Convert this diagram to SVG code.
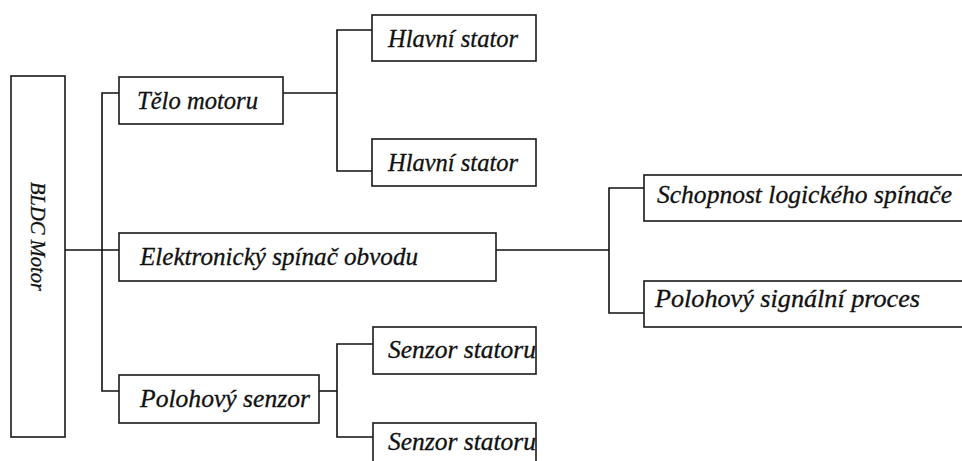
<svg xmlns="http://www.w3.org/2000/svg" width="962" height="461" viewBox="0 0 962 461">
<style>
.box{fill:#fff;stroke:#1a1a1a;stroke-width:1.6}
.lbl{font-family:"Liberation Serif","Times New Roman",serif;font-style:italic;font-size:24.5px;fill:#111;stroke:#111;stroke-width:0.3}
.conn{fill:none;stroke:#111;stroke-width:1.6}
</style>
<rect width="962" height="461" fill="#fff"/>
<g id="connectors" class="conn">
<path d="M65,250H119"/>
<path d="M119,93H102V391H119"/>
<path d="M283,93H337"/>
<path d="M372,30H337V171H372"/>
<path d="M496,250H609"/>
<path d="M644,188H609V313H644"/>
<path d="M319,391H337"/>
<path d="M373,344H337V437H373"/>
</g>
<g id="bldc">
<rect class="box" x="11" y="76" width="54" height="361"/>
<text class="lbl" style="font-size:22px" transform="translate(31,182) rotate(90)" textLength="109" lengthAdjust="spacingAndGlyphs">BLDC Motor</text>
</g>
<g id="telo">
<rect class="box" x="119" y="77" width="164" height="47"/>
<text class="lbl" x="137" y="109" textLength="121" lengthAdjust="spacingAndGlyphs">Tělo motoru</text>
</g>
<g id="hlavni1">
<rect class="box" x="372" y="15" width="164" height="46"/>
<text class="lbl" x="388" y="47" textLength="130" lengthAdjust="spacingAndGlyphs">Hlavní stator</text>
</g>
<g id="hlavni2">
<rect class="box" x="372" y="139" width="164" height="47"/>
<text class="lbl" x="388" y="171" textLength="130" lengthAdjust="spacingAndGlyphs">Hlavní stator</text>
</g>
<g id="elektronicky">
<rect class="box" x="119" y="233" width="377" height="48"/>
<text class="lbl" x="140" y="265" textLength="278" lengthAdjust="spacingAndGlyphs">Elektronický spínač obvodu</text>
</g>
<g id="schopnost">
<rect class="box" x="644" y="175" width="330" height="46"/>
<text class="lbl" x="657" y="203" textLength="295" lengthAdjust="spacingAndGlyphs">Schopnost logického spínače</text>
</g>
<g id="signalni">
<rect class="box" x="644" y="281" width="330" height="46"/>
<text class="lbl" x="655" y="307" textLength="265" lengthAdjust="spacingAndGlyphs">Polohový signální proces</text>
</g>
<g id="polohovy">
<rect class="box" x="119" y="375" width="200" height="48"/>
<text class="lbl" x="140" y="407" textLength="170" lengthAdjust="spacingAndGlyphs">Polohový senzor</text>
</g>
<g id="senzor1">
<text class="lbl" x="388" y="358" textLength="148" lengthAdjust="spacingAndGlyphs">Senzor statoru</text>
<rect class="box" x="373" y="327" width="163" height="47" style="fill:none"/>
</g>
<g id="senzor2">
<text class="lbl" x="388" y="450" textLength="148" lengthAdjust="spacingAndGlyphs">Senzor statoru</text>
<rect class="box" x="373" y="423" width="163" height="50" style="fill:none"/>
</g>
</svg>
